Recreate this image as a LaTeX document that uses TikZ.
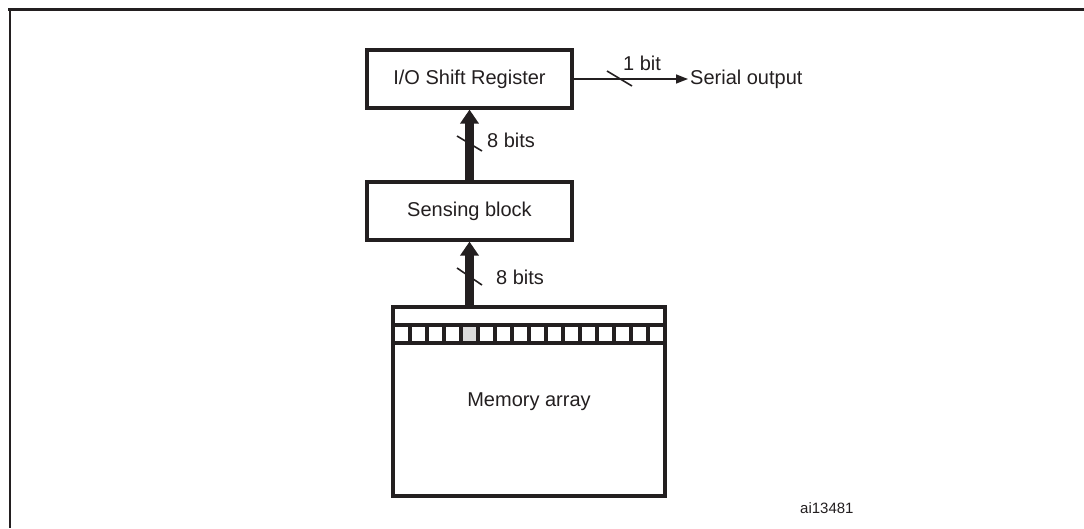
\documentclass[tikz,border=0pt]{standalone}
\usepackage{fontspec}
\setmainfont{Liberation Sans}
\usetikzlibrary{arrows.meta}
\definecolor{ink}{HTML}{231F20}
\definecolor{cellgray}{HTML}{DCDCDC}
\begin{document}
\begin{tikzpicture}[x=1pt,y=-1pt,
  every node/.style={font=\fontsize{20}{24}\selectfont, text=ink},
  blockbox/.style={draw=ink, line width=3.2pt, fill=white, inner sep=0pt},
  bus/.style={draw=ink, line width=8.5pt, -{Triangle[width=18pt,length=14pt]}},
  wire/.style={draw=ink, line width=1.4pt, -{Triangle[width=9pt,length=12pt]}},
  tick/.style={draw=ink, line width=1.6pt},
  lbl/.style={anchor=west, inner sep=0pt}]
\useasboundingbox (0,0) rectangle (1084,528);
% frame
\draw[ink, line width=3pt] (8,9) -- (1084,9);
\draw[ink, line width=2.5pt] (10,9) -- (10,528);

% blocks
\node[blockbox, minimum width=205pt, minimum height=58pt] (io) at (469.5,79) {I/O Shift Register};
\node[blockbox, minimum width=205pt, minimum height=58pt] (sense) at (469.5,211) {Sensing block};
\node[blockbox, minimum width=272pt, minimum height=189pt] (mem) at (529,401.5) {Memory array};

% cell row of the memory array
\fill[cellgray] (461,325) rectangle (478,343);
\draw[ink, line width=3.2pt] (393,325) -- (665,325);
\draw[ink, line width=3.2pt] (393,343) -- (665,343);
\foreach \k in {1,...,15}{
  \draw[ink, line width=3.2pt] ({393+17*\k},325) -- ({393+17*\k},343);
}

% buses
\draw[bus] (mem.north -| sense.south) -- (sense.south);
\draw[bus] (sense.north) -- (io.south);
\draw[tick] (457,136) -- (482,151);
\draw[tick] (457,268) -- (482,285);
\node[lbl] (b1) at (487,140) {8 bits};
\node[lbl] (b2) at (496,277) {8 bits};

% serial output
\node[anchor=west, inner sep=2pt] (out) at (688,79) {Serial output};
\draw[wire] (io.east |- out.west) -- (out.west);
\draw[tick] (607,71) -- (632,86);
\node[lbl] (b0) at (623,63) {1 bit};

% figure id
\node[lbl, font=\fontsize{15}{18}\selectfont] (id) at (800,508) {ai13481};
\end{tikzpicture}
\end{document}
